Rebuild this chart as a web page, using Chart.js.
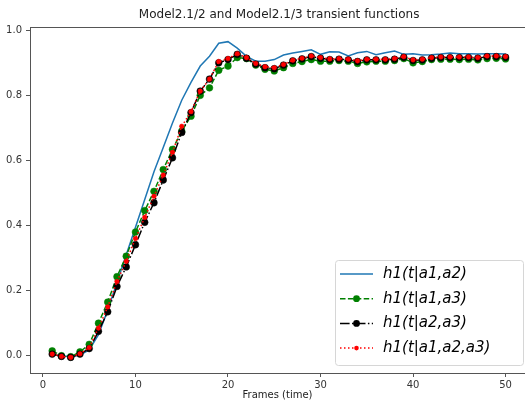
<!DOCTYPE html>
<html>
<head>
<meta charset="utf-8">
<script src="https://cdn.jsdelivr.net/npm/chart.js@4.4.0/dist/chart.umd.min.js"></script>
<style>
    html, body { margin: 0; padding: 0; background: #fff; overflow: hidden; }
</style>
</head>
<body>
<canvas id="grafico" width="525" height="401"></canvas>
<script>
// datos del grafico

const frames = [1, 2, 3, 4, 5, 6, 7, 8, 9, 10,
    11, 12, 13, 14, 15, 16, 17, 18, 19, 20,
    21, 22, 23, 24, 25, 26, 27, 28, 29, 30,
    31, 32, 33, 34, 35, 36, 37, 38, 39, 40,
    41, 42, 43, 44, 45, 46, 47, 48, 49, 50];

const h1_a1a2 = [0.003, 0.0, -0.003, 0.002, 0.018, 0.065, 0.14, 0.225, 0.31, 0.395,
    0.48, 0.565, 0.64, 0.715, 0.785, 0.84, 0.89, 0.92, 0.96, 0.965,
    0.945, 0.92, 0.905, 0.905, 0.91, 0.924, 0.93, 0.935, 0.94, 0.926,
    0.934, 0.933, 0.921, 0.931, 0.935, 0.925, 0.931, 0.936, 0.926, 0.928,
    0.924, 0.925, 0.927, 0.93, 0.928, 0.928, 0.927, 0.928, 0.928, 0.927];

const h1_a1a3 = [0.015, 0.0, -0.003, 0.012, 0.035, 0.1, 0.165, 0.243, 0.306, 0.38,
    0.446, 0.505, 0.572, 0.634, 0.69, 0.736, 0.8, 0.823, 0.877, 0.89,
    0.916, 0.913, 0.893, 0.88, 0.875, 0.885, 0.898, 0.904, 0.91, 0.905,
    0.905, 0.907, 0.905, 0.898, 0.903, 0.905, 0.905, 0.907, 0.913, 0.9,
    0.904, 0.91, 0.911, 0.911, 0.91, 0.911, 0.909, 0.913, 0.914, 0.912];

const h1_a2a3 = [0.005, -0.002, -0.005, 0.005, 0.022, 0.075, 0.135, 0.213, 0.273, 0.341,
    0.41, 0.47, 0.54, 0.608, 0.686, 0.747, 0.813, 0.85, 0.9, 0.91,
    0.926, 0.914, 0.896, 0.885, 0.882, 0.893, 0.906, 0.912, 0.919, 0.914,
    0.91, 0.911, 0.909, 0.904, 0.909, 0.909, 0.909, 0.911, 0.917, 0.907,
    0.909, 0.914, 0.916, 0.916, 0.916, 0.916, 0.914, 0.919, 0.919, 0.917];

const h1_a1a2a3 = [0.005, -0.002, -0.005, 0.006, 0.025, 0.085, 0.15, 0.228, 0.29, 0.36,
    0.425, 0.49, 0.555, 0.625, 0.705, 0.75, 0.813, 0.85, 0.904, 0.913,
    0.928, 0.916, 0.898, 0.888, 0.885, 0.895, 0.908, 0.914, 0.921, 0.916,
    0.912, 0.913, 0.911, 0.906, 0.911, 0.911, 0.911, 0.913, 0.919, 0.909,
    0.911, 0.916, 0.918, 0.918, 0.918, 0.918, 0.916, 0.921, 0.921, 0.919];

const xTicks = [0, 10, 20, 30, 40, 50];
const yTicks = [0.0, 0.2, 0.4, 0.6, 0.8, 1.0];
const nombres = ['h1(t|a1,a2)', 'h1(t|a1,a3)', 'h1(t|a2,a3)', 'h1(t|a1,a2,a3)'];
const titulo = 'Model2.1/2 and Model2.1/3 transient functions';
const etiquetaX = 'Frames (time)';

// el eje original termina en 52.45, fuera de la imagen recortada
const xMin = -1.4, xMax = 52.1, xFinEje = 52.45;

function puntos(valores) {
    return frames.map((f, i) => ({ x: f, y: valores[i] }));
}

// titulo centrado sobre el eje completo
const tituloEje = {
    id: 'tituloEje',
    afterDraw(chart) {
        const ctx = chart.ctx;
        const a = chart.chartArea;
        const fin = chart.scales.x.getPixelForValue(xFinEje);
        ctx.save();
        ctx.fillStyle = '#222';
        ctx.font = '12px "DejaVu Sans"';
        ctx.textAlign = 'center';
        ctx.textBaseline = 'middle';
        ctx.fillText(titulo, (a.left + fin) / 2, 15);
        ctx.restore();
    }
};

// leyenda dibujada dentro del area del grafico (abajo a la derecha)
const leyenda = {
    id: 'leyenda',
    afterDraw(chart) {
        const ctx = chart.ctx;
        const area = chart.chartArea;
        const w = 188, h = 105;
        const x0 = area.right - 2 - w;
        const y0 = area.bottom - 8 - h;
        ctx.save();
        ctx.beginPath();
        ctx.roundRect(x0 + 0.5, y0 + 0.5, w, h, 3);
        ctx.fillStyle = 'rgba(255,255,255,0.8)';
        ctx.fill();
        ctx.strokeStyle = '#d6d6d6';
        ctx.lineWidth = 1;
        ctx.stroke();

        chart.data.datasets.forEach((ds, i) => {
            const y = y0 + 14 + i * 24.7;
            ctx.setLineDash(ds.borderDash || []);
            ctx.strokeStyle = ds.borderColor;
            ctx.lineWidth = ds.borderWidth;
            ctx.beginPath();
            ctx.moveTo(x0 + 5, y);
            ctx.lineTo(x0 + 38, y);
            ctx.stroke();
            ctx.setLineDash([]);
            if (ds.pointRadius > 0) {
                ctx.beginPath();
                ctx.arc(x0 + 21.5, y, ds.pointRadius, 0, Math.PI * 2);
                ctx.fillStyle = ds.pointBackgroundColor;
                ctx.fill();
            }
            ctx.fillStyle = '#000';
            ctx.font = 'italic 15px "DejaVu Sans"';
            ctx.textAlign = 'left';
            ctx.textBaseline = 'middle';
            ctx.fillText(ds.label, x0 + 48, y);
        });
        ctx.restore();
    }
};

// borde superior del eje (como matplotlib)
const marco = {
    id: 'marco',
    afterDraw(chart) {
        const ctx = chart.ctx;
        const a = chart.chartArea;
        ctx.save();
        ctx.strokeStyle = '#555';
        ctx.lineWidth = 1;
        ctx.beginPath();
        ctx.moveTo(a.left, a.top + 0.5);
        ctx.lineTo(a.right, a.top + 0.5);
        ctx.stroke();
        ctx.restore();
    }
};

const ctx = document.getElementById('grafico').getContext('2d');
new Chart(ctx, {
    type: 'line',
    data: {
        datasets: [
            {
                label: nombres[0],
                data: puntos(h1_a1a2),
                borderColor: '#1f77b4',
                backgroundColor: '#1f77b4',
                borderWidth: 1.5,
                pointRadius: 0,
                order: 4
            },
            {
                label: nombres[1],
                data: puntos(h1_a1a3),
                borderColor: '#008000',
                backgroundColor: '#008000',
                pointBackgroundColor: '#008000',
                pointBorderColor: '#008000',
                borderWidth: 1.5,
                borderDash: [5.5, 2.4],
                pointRadius: 3.4,
                pointBorderWidth: 0.5,
                order: 3
            },
            {
                label: nombres[2],
                data: puntos(h1_a2a3),
                borderColor: '#000000',
                backgroundColor: '#000000',
                pointBackgroundColor: '#000000',
                pointBorderColor: '#000000',
                borderWidth: 1.5,
                borderDash: [9.6, 2.4, 1.5, 2.4],
                pointRadius: 3.4,
                pointBorderWidth: 0.5,
                order: 2
            },
            {
                label: nombres[3],
                data: puntos(h1_a1a2a3),
                borderColor: '#ff0000',
                backgroundColor: '#ff0000',
                pointBackgroundColor: '#ff0000',
                pointBorderColor: '#ff0000',
                borderWidth: 1.5,
                borderDash: [1.5, 2.5],
                pointRadius: 2.3,
                pointBorderWidth: 0.5,
                order: 1
            }
        ]
    },
    options: {
        responsive: false,
        animation: false,
        layout: {
            autoPadding: false,
            padding: { left: 0, right: 0, top: 27, bottom: 0 }
        },
        elements: {
            line: { tension: 0 }
        },
        plugins: {
            legend: { display: false },
            tooltip: { enabled: false },
            title: { display: false }
        },
        scales: {
            x: {
                type: 'linear',
                min: xMin,
                max: xMax,
                afterBuildTicks: (scale) => {
                    scale.ticks = xTicks.map(v => ({ value: v }));
                },
                afterFit: (scale) => {
                    scale.height = 28;
                    scale.paddingLeft = 0;
                    scale.paddingRight = 0;
                },
                ticks: {
                    color: '#333',
                    font: { family: 'DejaVu Sans', size: 10 },
                    padding: 2,
                    maxRotation: 0
                },
                grid: {
                    drawOnChartArea: false,
                    drawTicks: true,
                    tickLength: 4,
                    color: '#555'
                },
                border: { display: true, color: '#555' },
                title: {
                    display: true,
                    text: etiquetaX,
                    color: '#222',
                    font: { family: 'DejaVu Sans', size: 10 },
                    padding: 0
                }
            },
            y: {
                min: -0.053,
                max: 1.01,
                afterBuildTicks: (scale) => {
                    scale.ticks = yTicks.map(v => ({ value: v }));
                },
                afterFit: (scale) => {
                    scale.width = 30;
                    scale.paddingTop = 0;
                    scale.paddingBottom = 0;
                },
                ticks: {
                    color: '#333',
                    font: { family: 'DejaVu Sans', size: 10 },
                    padding: 4,
                    callback: (v) => v.toFixed(1)
                },
                grid: {
                    drawOnChartArea: false,
                    drawTicks: true,
                    tickLength: 4,
                    color: '#555'
                },
                border: { display: true, color: '#555' }
            }
        }
    },
    plugins: [leyenda, marco, tituloEje]
});
</script>
</body>
</html>
